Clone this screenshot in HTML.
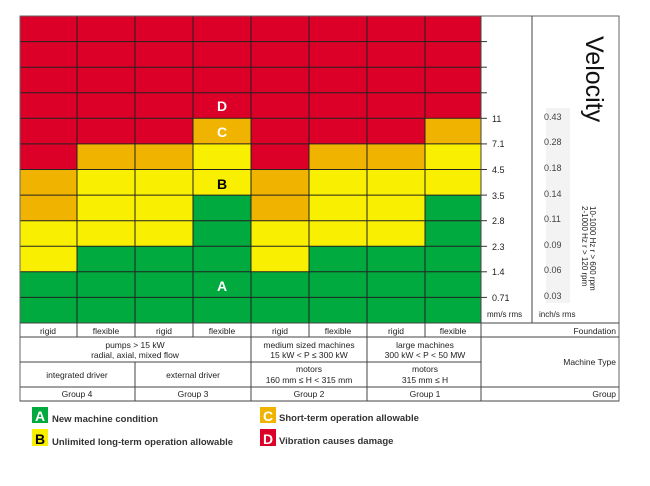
<!DOCTYPE html>
<html><head><meta charset="utf-8"><style>
html,body{margin:0;padding:0;background:#fff;}
svg{display:block;font-family:"Liberation Sans",Arial,sans-serif;}
</style></head><body>
<svg width="650" height="486" viewBox="0 0 650 486" xmlns="http://www.w3.org/2000/svg">
<rect x="20" y="16" width="461" height="307" fill="#dc0028"/>
<rect x="20" y="169.5" width="57" height="51.2" fill="#f0b400"/>
<rect x="20" y="220.7" width="57" height="51.1" fill="#f8f000"/>
<rect x="20" y="271.8" width="57" height="51.2" fill="#00aa3e"/>
<rect x="251" y="169.5" width="58" height="51.2" fill="#f0b400"/>
<rect x="251" y="220.7" width="58" height="51.1" fill="#f8f000"/>
<rect x="251" y="271.8" width="58" height="51.2" fill="#00aa3e"/>
<rect x="77" y="143.9" width="116" height="25.6" fill="#f0b400"/>
<rect x="77" y="169.5" width="116" height="76.8" fill="#f8f000"/>
<rect x="77" y="246.3" width="116" height="76.7" fill="#00aa3e"/>
<rect x="309" y="143.9" width="116" height="25.6" fill="#f0b400"/>
<rect x="309" y="169.5" width="116" height="76.8" fill="#f8f000"/>
<rect x="309" y="246.3" width="116" height="76.7" fill="#00aa3e"/>
<rect x="193" y="118.3" width="58" height="25.6" fill="#f0b400"/>
<rect x="193" y="143.9" width="58" height="51.2" fill="#f8f000"/>
<rect x="193" y="195.1" width="58" height="127.9" fill="#00aa3e"/>
<rect x="425" y="118.3" width="56" height="25.6" fill="#f0b400"/>
<rect x="425" y="143.9" width="56" height="51.2" fill="#f8f000"/>
<rect x="425" y="195.1" width="56" height="127.9" fill="#00aa3e"/>
<g stroke="#222" stroke-width="1">
<line x1="20" x2="481" y1="41.6" y2="41.6"/><line x1="20" x2="481" y1="67.2" y2="67.2"/>
<line x1="20" x2="481" y1="92.8" y2="92.8"/><line x1="20" x2="481" y1="118.3" y2="118.3"/>
<line x1="20" x2="481" y1="143.9" y2="143.9"/><line x1="20" x2="481" y1="169.5" y2="169.5"/>
<line x1="20" x2="481" y1="195.1" y2="195.1"/><line x1="20" x2="481" y1="220.7" y2="220.7"/>
<line x1="20" x2="481" y1="246.3" y2="246.3"/><line x1="20" x2="481" y1="271.8" y2="271.8"/>
<line x1="20" x2="481" y1="297.4" y2="297.4"/>
<line x1="77" x2="77" y1="16" y2="323"/><line x1="135" x2="135" y1="16" y2="323"/>
<line x1="193" x2="193" y1="16" y2="323"/><line x1="251" x2="251" y1="16" y2="323"/>
<line x1="309" x2="309" y1="16" y2="323"/><line x1="367" x2="367" y1="16" y2="323"/>
<line x1="425" x2="425" y1="16" y2="323"/>
</g>
<rect x="20" y="16" width="599" height="385" fill="none" stroke="#666" stroke-width="1"/>
<line x1="481" y1="16" x2="481" y2="401" stroke="#444"/>
<line x1="532" y1="16" x2="532" y2="323" stroke="#444"/>
<line x1="20" y1="323" x2="619" y2="323" stroke="#444"/>
<line x1="20" y1="337" x2="619" y2="337" stroke="#444"/>
<line x1="20" y1="362" x2="481" y2="362" stroke="#444"/>
<line x1="20" y1="387" x2="619" y2="387" stroke="#444"/>
<line x1="20" y1="401" x2="619" y2="401" stroke="#444"/>
<g stroke="#444">
<line x1="77" y1="323" x2="77" y2="337"/><line x1="135" y1="323" x2="135" y2="337"/>
<line x1="193" y1="323" x2="193" y2="337"/><line x1="309" y1="323" x2="309" y2="337"/>
<line x1="425" y1="323" x2="425" y2="337"/>
<line x1="251" y1="323" x2="251" y2="401"/><line x1="367" y1="323" x2="367" y2="401"/>
<line x1="135" y1="362" x2="135" y2="401"/>
</g>
<g stroke="#333">
<line x1="481" x2="487" y1="41.6" y2="41.6"/><line x1="481" x2="487" y1="67.2" y2="67.2"/>
<line x1="481" x2="487" y1="92.8" y2="92.8"/><line x1="481" x2="487" y1="118.3" y2="118.3"/>
<line x1="481" x2="487" y1="143.9" y2="143.9"/><line x1="481" x2="487" y1="169.5" y2="169.5"/>
<line x1="481" x2="487" y1="195.1" y2="195.1"/><line x1="481" x2="487" y1="220.7" y2="220.7"/>
<line x1="481" x2="487" y1="246.3" y2="246.3"/><line x1="481" x2="487" y1="271.8" y2="271.8"/>
<line x1="481" x2="487" y1="297.4" y2="297.4"/>
</g>
<rect x="546" y="108" width="24" height="195" fill="#f3f3f3"/>
<g font-size="9" fill="#222">
<text x="492" y="122">11</text><text x="492" y="147">7.1</text><text x="492" y="173">4.5</text>
<text x="492" y="199">3.5</text><text x="492" y="224">2.8</text><text x="492" y="250">2.3</text>
<text x="492" y="275">1.4</text><text x="492" y="301">0.71</text>
<text x="487" y="317" font-size="8">mm/s rms</text>
<text x="539" y="317" font-size="8">inch/s rms</text>
<g fill="#444"><text x="544" y="120">0.43</text><text x="544" y="145">0.28</text><text x="544" y="171">0.18</text>
<text x="544" y="197">0.14</text><text x="544" y="222">0.11</text><text x="544" y="248">0.09</text>
<text x="544" y="273">0.06</text><text x="544" y="299">0.03</text></g>
</g>
<text transform="translate(586,36) rotate(90)" font-size="25" fill="#111">Velocity</text>
<text transform="translate(590,206) rotate(90)" font-size="8" fill="#222">10-1000 Hz r &gt; 600 rpm</text>
<text transform="translate(582,206) rotate(90)" font-size="8" fill="#222">2-1000 Hz r &gt; 120 rpm</text>
<g font-size="14" font-weight="bold" text-anchor="middle">
<text x="222" y="111" fill="#fff">D</text><text x="222" y="137" fill="#fff">C</text>
<text x="222" y="189" fill="#000">B</text><text x="222" y="291" fill="#fff">A</text>
</g>
<g font-size="8.5" fill="#222" text-anchor="middle">
<text x="48" y="334">rigid</text><text x="106" y="334">flexible</text><text x="164" y="334">rigid</text><text x="222" y="334">flexible</text>
<text x="280" y="334">rigid</text><text x="338" y="334">flexible</text><text x="396" y="334">rigid</text><text x="453" y="334">flexible</text>
<text x="135" y="348">pumps &gt; 15 kW</text><text x="135" y="358">radial, axial, mixed flow</text>
<text x="309" y="348">medium sized machines</text><text x="309" y="358">15 kW &lt; P ≤ 300 kW</text>
<text x="425" y="348">large machines</text><text x="425" y="358">300 kW &lt; P &lt; 50 MW</text>
<text x="77" y="378">integrated driver</text><text x="193" y="378">external driver</text>
<text x="309" y="372">motors</text><text x="309" y="383">160 mm ≤ H &lt; 315 mm</text>
<text x="425" y="372">motors</text><text x="425" y="383">315 mm ≤ H</text>
<text x="77" y="397">Group 4</text><text x="193" y="397">Group 3</text><text x="309" y="397">Group 2</text><text x="425" y="397">Group 1</text>
</g>
<g font-size="8.5" fill="#222" text-anchor="end">
<text x="616" y="334">Foundation</text><text x="616" y="365">Machine Type</text><text x="616" y="397">Group</text>
</g>
<rect x="32" y="407" width="16" height="16" fill="#00aa3e"/>
<rect x="32" y="429" width="16" height="17" fill="#f8f000"/>
<rect x="260" y="407" width="16" height="16" fill="#f0b400"/>
<rect x="260" y="429" width="16" height="17" fill="#dc0028"/>
<g font-size="14" font-weight="bold" text-anchor="middle">
<text x="40" y="421" fill="#fff">A</text><text x="40" y="444" fill="#000">B</text>
<text x="268" y="421" fill="#fff">C</text><text x="268" y="444" fill="#fff">D</text>
</g>
<g font-size="9.5" font-weight="bold" fill="#333">
<text x="52" y="422">New machine condition</text>
<text x="52" y="445">Unlimited long-term operation allowable</text>
<text x="279" y="421">Short-term operation allowable</text>
<text x="279" y="444">Vibration causes damage</text>
</g>
</svg>
</body></html>
